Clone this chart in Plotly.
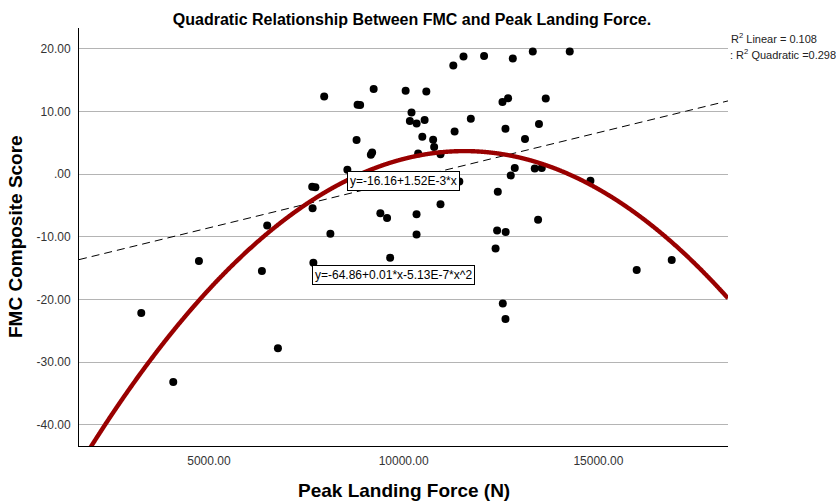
import numpy as np
import plotly.graph_objects as go

# Peak landing force (N) and FMC composite score for each participant
peak_force = [
    3263, 4084, 4743, 6360, 6496, 6771, 7681, 7661, 7651, 7733,
    8118, 7959, 8554, 8790, 8816, 8882, 9157, 9190, 9229, 9401,
    9573, 9652, 10050, 10201, 10158, 10332, 10330, 10330, 10371, 10478,
    10537, 10581, 10756, 10782, 10945, 10945, 11274, 11307, 11428, 11536,
    11723, 12064, 12359, 12398, 12416, 12536, 12544, 12613, 12618, 12613,
    12680, 12749, 12801, 12852, 13114, 13314, 13365, 13450, 13473, 13545,
    13647, 14263, 14794, 15982, 16881,
]
fmc_score = [
    -22.15, -33.16, -13.85, -15.45, -8.17, -27.76, -14.12, -5.43, -1.99, -2.07,
    -9.49, 12.41, 0.72, 5.46, 11.09, 11.04, 3.11, 3.48, 13.60, -6.22,
    -6.99, -13.32, 13.32, 9.86, 8.49, 8.09, -6.38, -9.62, 3.30, 5.98,
    8.65, 13.20, 5.50, 4.34, 3.19, -4.79, 17.36, 6.81, -1.16, 18.78,
    8.86, 18.88, -11.86, -8.98, -2.79, 11.52, -20.62, 7.26, -9.22, -23.10,
    12.13, -0.19, 18.48, 0.99, 5.62, 19.60, 0.91, -7.26, 8.01, 0.99,
    12.08, 19.60, -1.04, -15.29, -13.69,
]

# Fit coefficients (constant, x, x^2)
linear_coef = [-16.16, 1.52e-3]
quad_coef = [-64.86, 0.01186, -5.13e-7]
r2_linear = 0.108
r2_quad = 0.298

x_range = [1664, 18326]
y_range = [-43.37, 23.33]

y_ticks = [-40, -30, -20, -10, 0, 10, 20]
y_ticktext = ["-40.00", "-30.00", "-20.00", "-10.00", ".00", "10.00", "20.00"]
x_ticks = [5000, 10000, 15000]
x_ticktext = ["5000.00", "10000.00", "15000.00"]

FONT = "Liberation Sans, Arial, sans-serif"

xs = np.linspace(x_range[0], x_range[1], 1200)
y_lin = linear_coef[0] + linear_coef[1] * xs
y_quad = quad_coef[0] + quad_coef[1] * xs + quad_coef[2] * xs ** 2

fig = go.Figure()
fig.add_trace(go.Scatter(
    x=peak_force, y=fmc_score, mode="markers",
    marker=dict(color="black", size=8, line=dict(width=0)),
    showlegend=False,
))
fig.add_trace(go.Scatter(
    x=xs, y=y_lin, mode="lines",
    line=dict(color="black", width=1, dash="8px,5px"),
    showlegend=False,
))
fig.add_trace(go.Scatter(
    x=xs, y=y_quad, mode="lines",
    line=dict(color="#990000", width=4.4, shape="spline"),
    showlegend=False,
))

box = dict(bgcolor="white", bordercolor="black", borderwidth=1, borderpad=2,
           font=dict(family=FONT, size=12, color="black"),
           showarrow=False, xanchor="left", yanchor="top", xref="x", yref="y")
fig.add_annotation(
    x=8549, y=0.45,
    text=f"y={linear_coef[0]:.2f}+{linear_coef[1]*1e3:.2f}E-3*x", **box)
fig.add_annotation(
    x=7651, y=-14.44,
    text=f"y={quad_coef[0]:.2f}+{quad_coef[1]:.2f}*x-{-quad_coef[2]*1e7:.2f}E-7*x^2", **box)

# R-squared legend at the upper right
fig.add_annotation(x=x_range[1], y=21.78, xref="x", yref="y", xshift=1,
                   text=f"R<sup>2</sup> Linear = {r2_linear:.3f}",
                   showarrow=False, xanchor="left", yanchor="middle",
                   font=dict(family=FONT, size=11, color="#222"))
fig.add_annotation(x=x_range[1], y=19.2, xref="x", yref="y",
                   text=f": R<sup>2</sup> Quadratic ={r2_quad:.3f}",
                   showarrow=False, xanchor="left", yanchor="middle",
                   font=dict(family=FONT, size=11, color="#222"))

# Axis titles
fig.add_annotation(x=0, y=0.5, xref="paper", yref="paper", xshift=-64,
                   text="<b>FMC Composite Score</b>", textangle=-90,
                   showarrow=False, xanchor="center", yanchor="middle",
                   font=dict(family=FONT, size=19, color="black"))
fig.add_annotation(x=0.5, y=0, xref="paper", yref="paper", yshift=-44,
                   text="<b>Peak Landing Force (N)</b>",
                   showarrow=False, xanchor="center", yanchor="middle",
                   font=dict(family=FONT, size=19, color="black"))

fig.update_layout(
    width=836, height=504,
    margin=dict(l=79, r=108, t=28, b=58),
    paper_bgcolor="white", plot_bgcolor="white",
    title=dict(text="<b>Quadratic Relationship Between FMC and Peak Landing Force.</b>",
               x=412 / 836, xanchor="center", y=1 - 19 / 504, yanchor="middle",
               font=dict(family=FONT, size=16, color="black")),
    font=dict(family=FONT, size=12, color="#333"),
)
fig.update_xaxes(
    range=x_range, tickvals=x_ticks, ticktext=x_ticktext,
    showgrid=False, zeroline=False, showline=True, linecolor="black", linewidth=1,
    ticks="", ticklabelstandoff=4, tickfont=dict(family=FONT, size=12, color="#333"),
)
fig.update_yaxes(
    range=y_range, tickvals=y_ticks, ticktext=y_ticktext,
    showgrid=True, gridcolor="#b4b4b4", gridwidth=1,
    zeroline=False, showline=True, linecolor="black", linewidth=1,
    ticks="", ticklabelstandoff=5, tickfont=dict(family=FONT, size=12, color="#333"),
)

fig.write_html("out.html")
